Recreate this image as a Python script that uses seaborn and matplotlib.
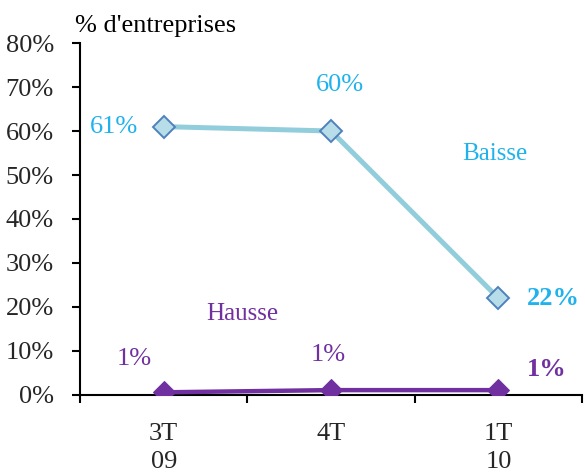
import matplotlib
matplotlib.use("Agg")
import matplotlib.pyplot as plt
import seaborn as sns
import pandas as pd

periods = ["3T\n09", "4T", "1T\n10"]
baisse = [61, 60, 22]
hausse = [0.6, 1.1, 1.1]
yticks = [0, 10, 20, 30, 40, 50, 60, 70, 80]

blue_text = "#1fb2ec"
purple = "#7030a0"

sns.set_theme(style="white")
plt.rcParams["font.family"] = ["Liberation Serif", "DejaVu Serif"]

fig = plt.figure(figsize=(5.85, 4.73), dpi=100)
ax = fig.add_axes([0.137, 0.165, 0.858, 0.744])

df_b = pd.DataFrame({"periode": periods, "part": baisse})
df_h = pd.DataFrame({"periode": periods, "part": hausse})

sns.lineplot(data=df_b, x="periode", y="part", ax=ax, color="#92cddc",
             linewidth=3.6, marker="D", markersize=11.5,
             markerfacecolor="#b7dde8", markeredgecolor="#4f81bd",
             markeredgewidth=1.4, sort=False, zorder=3)
sns.lineplot(data=df_h, x="periode", y="part", ax=ax, color=purple,
             linewidth=3.2, marker="D", markersize=11.5,
             markerfacecolor=purple, markeredgecolor=purple,
             sort=False, zorder=3)

fs = 19

def pt(px):
    return px * 72 / 100

# value labels for the "Baisse" series
b_offsets = [(-50, 0), (9, 46), (55, 0)]
for i, (v, off) in enumerate(zip(baisse, b_offsets)):
    ax.annotate(f"{round(v)}%", (i, v), xytext=(pt(off[0]), pt(off[1])),
                textcoords="offset points", ha="center", va="center",
                fontsize=fs, color=blue_text,
                fontweight="bold" if i == 2 else "normal")

# value labels for the "Hausse" series
h_offsets = [(-30, 33), (-3, 35), (48, 21)]
for i, (v, off) in enumerate(zip(hausse, h_offsets)):
    ax.annotate(f"{round(v)}%", (i, v), xytext=(pt(off[0]), pt(off[1])),
                textcoords="offset points", ha="center", va="center",
                fontsize=fs, color=purple,
                fontweight="bold" if i == 2 else "normal")

ax.text(1.98, 54.8, "Baisse", color=blue_text, fontsize=fs - 1,
        ha="center", va="center")
ax.text(0.47, 18.4, "Hausse", color=purple, fontsize=fs - 1,
        ha="center", va="center")

ax.set_xlim(-0.5, 2.5)
ax.set_ylim(0, 80)
ax.set_yticks(yticks)
ax.set_yticklabels([f"{t}%" for t in yticks], fontsize=fs)
ax.set_xticks([-0.5, 0.5, 1.5, 2.5])
ax.set_xticklabels([])
ax.set_xticks([0, 1, 2], minor=True)
ax.set_xticklabels(periods, minor=True, fontsize=fs, linespacing=1.35)
ax.tick_params(axis="x", which="minor", length=0, pad=20)
ax.tick_params(axis="x", which="major", direction="out", length=6,
               width=1.5, color="black", bottom=True)
ax.tick_params(axis="y", direction="out", length=6, width=1.5,
               color="black", left=True, pad=13)
ax.set_xlabel("")
ax.set_ylabel("")
for side in ["top", "right"]:
    ax.spines[side].set_visible(False)
for side in ["left", "bottom"]:
    ax.spines[side].set_color("black")
    ax.spines[side].set_linewidth(1.5)
ax.grid(False)

fig.text(0.128, 0.946, "% d'entreprises", fontsize=fs, ha="left",
         va="center", color="black")

fig.savefig("out.png", dpi=100)
